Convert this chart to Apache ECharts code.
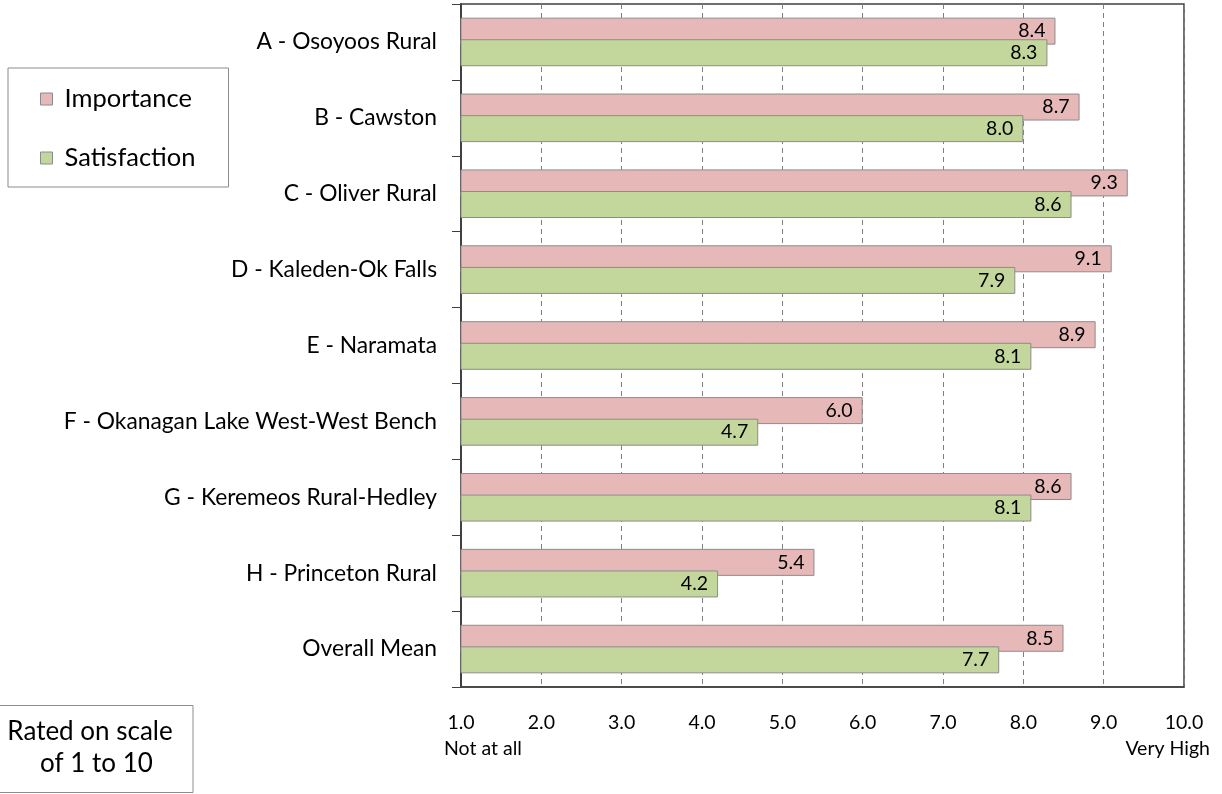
<!DOCTYPE html>
<html><head><meta charset="utf-8">
<script src="https://cdn.jsdelivr.net/npm/echarts@6/dist/echarts.min.js"></script>
<style>html,body{margin:0;padding:0;background:#fff}#c{width:1222px;height:794px}</style>
</head><body><div id="c"></div>
<script>
var categories = ['A - Osoyoos Rural','B - Cawston','C - Oliver Rural','D - Kaleden-Ok Falls','E - Naramata','F - Okanagan Lake West-West Bench','G - Keremeos Rural-Hedley','H - Princeton Rural','Overall Mean'];
var importance = [8.4, 8.7, 9.3, 9.1, 8.9, 6.0, 8.6, 5.4, 8.5];
var satisfaction = [8.3, 8.0, 8.6, 7.9, 8.1, 4.7, 8.1, 4.2, 7.7];
var xTicks = [1,2,3,4,5,6,7,8,9,10];
var FONT = 'Lato';
var chart = echarts.init(document.getElementById('c'), null, {renderer:'canvas'});
var lbl = {show:true, position:'insideRight', distance:10, color:'#000', fontFamily:FONT, fontSize:19.5, formatter:function(p){return p.value.toFixed(1);}};
chart.setOption({
  animation:false,
  textStyle:{fontFamily:FONT},
  grid:{left:461, right:38, top:4, bottom:107, show:true, borderColor:'#404040', borderWidth:1.5},
  legend:{
    orient:'vertical', left:8, top:68, data:['Importance','Satisfaction'],
    borderColor:'#8c8c8c', borderWidth:1, padding:[16,33,14,32], itemGap:29,
    itemWidth:12, itemHeight:12, icon:'rect',
    itemStyle:{borderColor:'#8c8c8c', borderWidth:1},
    textStyle:{fontFamily:FONT, fontSize:25.5, lineHeight:30, color:'#000', padding:[0,0,0,7]}
  },
  xAxis:{type:'value', min:xTicks[0], max:xTicks[xTicks.length-1], interval:1,
    axisLine:{show:true, lineStyle:{color:'#404040', width:1.5}},
    axisTick:{show:false},
    axisLabel:{margin:26, color:'#000', fontSize:19.5, fontFamily:FONT, formatter:function(v){return v.toFixed(1);}},
    splitLine:{show:true, lineStyle:{color:'#808080', type:[5,4], width:1}}
  },
  yAxis:{type:'category', data:categories, inverse:true,
    axisLine:{show:true, lineStyle:{color:'#404040', width:2}},
    axisTick:{show:true, inside:false, length:9, lineStyle:{color:'#404040', width:1}},
    axisLabel:{margin:24, color:'#000', fontSize:22.8, fontFamily:FONT}
  },
  series:[
    {name:'Importance', type:'bar', data:importance, barWidth:27, barGap:'-20%',
     itemStyle:{color:'#E6B9B8', borderColor:'#8c8c8c', borderWidth:1}, label:lbl},
    {name:'Satisfaction', type:'bar', data:satisfaction, barWidth:27, barGap:'-20%',
     itemStyle:{color:'#C3D69B', borderColor:'#8c8c8c', borderWidth:1}, label:lbl}
  ],
  graphic:[
    {type:'text', left:444, top:739, style:{text:'Not at all', fontFamily:FONT, fontSize:19.5, fill:'#000'}},
    {type:'text', right:12, top:739, style:{text:'Very High', fontFamily:FONT, fontSize:19.5, fill:'#000', textAlign:'right'}},
    {type:'rect', shape:{x:-1, y:705.5, width:194, height:87}, style:{fill:'#fff', stroke:'#8c8c8c', lineWidth:1}},
    {type:'text', x:90, y:732, style:{text:'Rated on scale', fontFamily:FONT, fontSize:26, fill:'#000', textAlign:'center', textVerticalAlign:'middle'}},
    {type:'text', x:96.5, y:764, style:{text:'of 1 to 10', fontFamily:FONT, fontSize:26, fill:'#000', textAlign:'center', textVerticalAlign:'middle'}}
  ]
});
</script></body></html>
